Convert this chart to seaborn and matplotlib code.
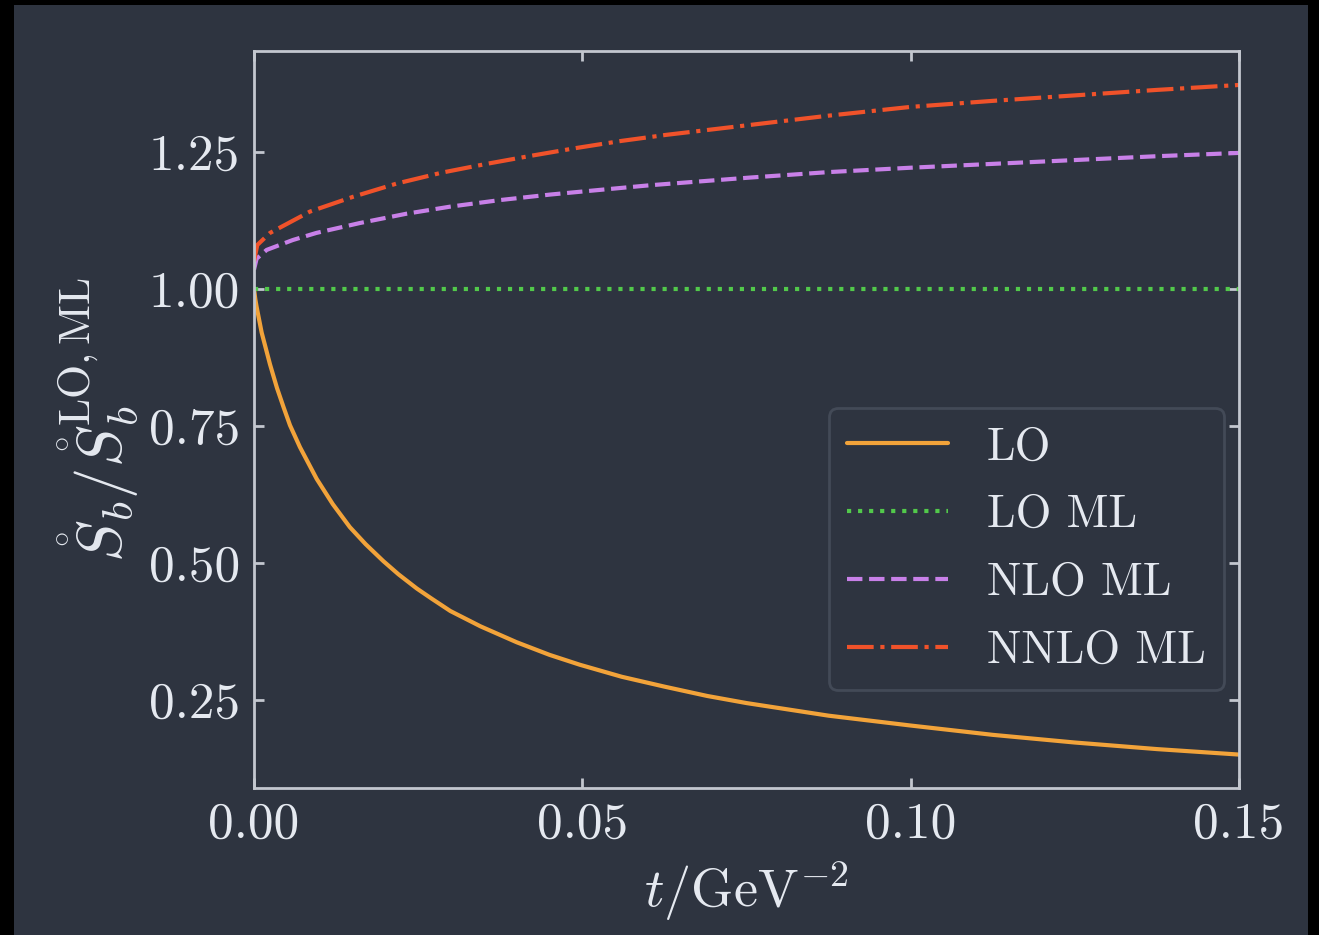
import matplotlib
matplotlib.use("Agg")
import matplotlib.pyplot as plt
import seaborn as sns
import pandas as pd
from matplotlib.patches import Rectangle

# ---- data ----
t_lo = [0.0, 0.0002, 0.0004, 0.00117, 0.00244, 0.0035, 0.0045, 0.00548, 0.007, 0.00955,
        0.012, 0.0146, 0.017, 0.0197, 0.022, 0.0248, 0.027, 0.0299, 0.0345, 0.040,
        0.045, 0.0496, 0.056, 0.0625, 0.069, 0.075, 0.0875, 0.10, 0.1125, 0.125,
        0.1375, 0.15]
lo = [1.0, 0.981, 0.967, 0.920, 0.862, 0.819, 0.784, 0.751, 0.711, 0.653,
      0.607, 0.565, 0.534, 0.503, 0.479, 0.453, 0.435, 0.412, 0.384, 0.355,
      0.332, 0.314, 0.292, 0.274, 0.257, 0.244, 0.221, 0.203, 0.186, 0.172,
      0.160, 0.150]

t_loml = [0.0, 0.15]
lo_ml = [1.0, 1.0]

t_nlo = [0.0, 0.0004, 0.00193, 0.0059, 0.0095, 0.0161, 0.0232, 0.0299, 0.0375,
         0.0451, 0.0522, 0.0603, 0.0755, 0.0875, 0.10, 0.1125, 0.125, 0.1375, 0.15]
nlo_ml = [1.035, 1.055, 1.071, 1.089, 1.102, 1.120, 1.137, 1.150, 1.162,
          1.172, 1.180, 1.189, 1.203, 1.213, 1.221, 1.228, 1.235, 1.242, 1.248]

t_nnlo = [0.0, 0.0005, 0.00244, 0.00853, 0.0151, 0.0217, 0.0286, 0.0354, 0.0423,
          0.0491, 0.056, 0.0628, 0.0755, 0.0875, 0.10, 0.1125, 0.125, 0.1375, 0.15]
nnlo_ml = [1.05, 1.08, 1.102, 1.141, 1.168, 1.192, 1.212, 1.228, 1.243,
           1.257, 1.270, 1.281, 1.299, 1.316, 1.332, 1.343, 1.353, 1.363, 1.372]

labels = ["LO", "LO ML", "NLO ML", "NNLO ML"]
x_ticks = [0.0, 0.05, 0.10, 0.15]
y_ticks = [0.25, 0.50, 0.75, 1.00, 1.25]

# ---- style ----
BG = "#2e3440"
FG = "#e5e9f0"
SPINE = "#c3c7cf"
colors = ["#f2a33a", "#52c94b", "#c880e8", "#f0522a"]
styles = ["-", ":", "--", "-."]

sns.set_theme(style="ticks")
plt.rcParams.update({
    "font.family": "serif",
    "font.serif": ["cmr10", "DejaVu Serif"],
    "mathtext.fontset": "cm",
    "axes.formatter.use_mathtext": True,
    "axes.unicode_minus": False,
})

fig = plt.figure(figsize=(13.19, 9.35), dpi=100, facecolor="black")
bgrect = Rectangle((14 / 1319, 0), (1308 - 14) / 1319, 1 - 5 / 935,
                   transform=fig.transFigure, facecolor=BG,
                   edgecolor="none", zorder=-10)
fig.add_artist(bgrect)
ax = fig.add_axes([254 / 1319, 1 - 788 / 935, (1239 - 254) / 1319, (788 - 51) / 935])
ax.set_zorder(1)
ax.set_facecolor(BG)

series = [(t_lo, lo), (t_loml, lo_ml), (t_nlo, nlo_ml), (t_nnlo, nnlo_ml)]
LW = 3.0
for (tx, vy), lab, c, ls in zip(series, labels, colors, styles):
    df = pd.DataFrame({"t": tx, "v": vy})
    sns.lineplot(data=df, x="t", y="v", ax=ax, color=c, linestyle=ls,
                 linewidth=LW, label=lab, sort=False)

ax.set_xlim(0, 0.15)
ax.set_ylim(0.089, 1.434)
ax.set_xticks(x_ticks)
ax.set_yticks(y_ticks)
ax.set_xticklabels([f"{v:.2f}" for v in x_ticks])
ax.set_yticklabels([f"{v:.2f}" for v in y_ticks])

FS = 37
ax.tick_params(direction="in", top=True, right=True, length=7, width=2,
               color=SPINE, labelcolor=FG, labelsize=FS, pad=10)
for s in ax.spines.values():
    s.set_color(SPINE)
    s.set_linewidth(2)
    s.set_visible(True)

ax.set_xlabel(r"$t/\mathrm{GeV}^{-2}$", color=FG, fontsize=39, labelpad=8)
ax.set_ylabel(r"$\mathring{S}_b/\mathring{S}_b^{\mathrm{LO,ML}}$", color=FG,
              fontsize=45, labelpad=6)

leg = ax.legend(loc="lower right", bbox_to_anchor=(0.985, 0.133), borderaxespad=0,
                fontsize=33, frameon=True, fancybox=True, handlelength=2.2,
                handletextpad=0.85, labelspacing=0.57, borderpad=0.4)
frame = leg.get_frame()
frame.set_facecolor(BG)
frame.set_edgecolor("#434a57")
frame.set_linewidth(2)
frame.set_alpha(1)
for txt in leg.get_texts():
    txt.set_color(FG)

fig.savefig("out.png", dpi=100, facecolor=fig.get_facecolor())
